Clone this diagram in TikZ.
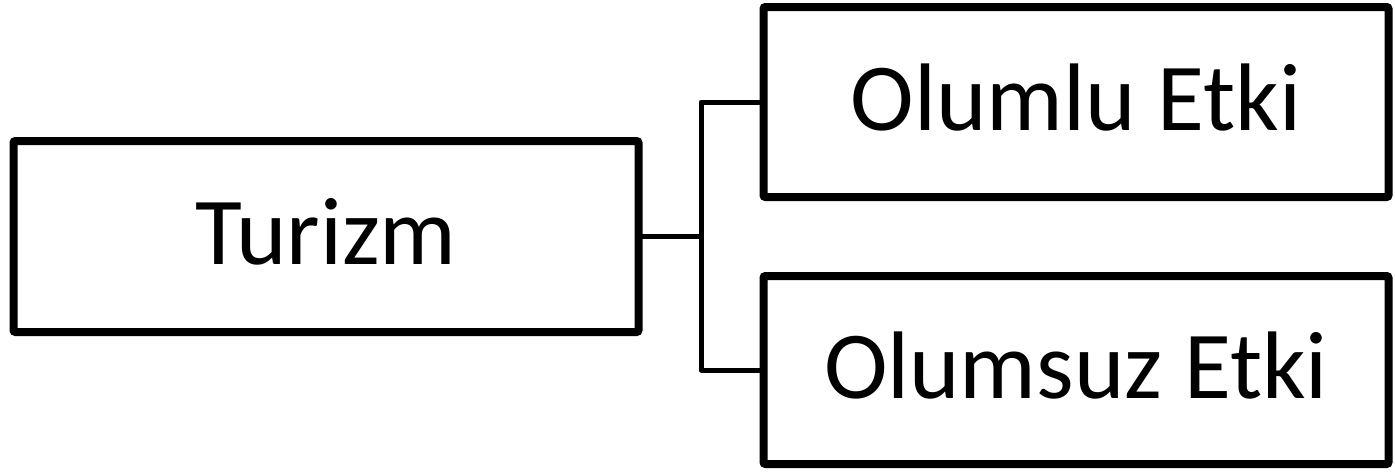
\documentclass[tikz,border=0pt]{standalone}
\usepackage{fontspec}
\setmainfont{Carlito}
\usetikzlibrary{positioning}
\usetikzlibrary{shadows}

\tikzset{
  box/.style={draw, line width=8pt, rounded corners=2pt, fill=white,
    outer sep=0pt, inner sep=0pt, minimum width=625pt, minimum height=190pt,
    text depth=10pt, font=\fontsize{96pt}{100pt}\selectfont,
    drop shadow={opacity=0.2, shadow xshift=2pt, shadow yshift=-2pt}},
  link/.style={line width=5pt, line join=round}
}

\begin{document}
\begin{tikzpicture}[x=1pt, y=-1pt]

  \useasboundingbox (0,0) rectangle (1395,472);

  % Define nodes
  \node[box, minimum height=191pt] (turizm) at (326,236.5) {Turizm};
  \node[box, right=125pt of turizm, yshift=134.5pt] (olumlu) {Olumlu Etki};
  \node[box, minimum height=188pt, right=125pt of turizm, yshift=-133.5pt] (olumsuz) {Olumsuz Etki};
  \coordinate (fork) at (701,236.5);

  % Connect the nodes
  \draw[link] (turizm.east) -- (fork) ; %
  \draw[link] (olumlu.west) -| (fork) |- (olumsuz.west) ; %

\end{tikzpicture}
\end{document}
